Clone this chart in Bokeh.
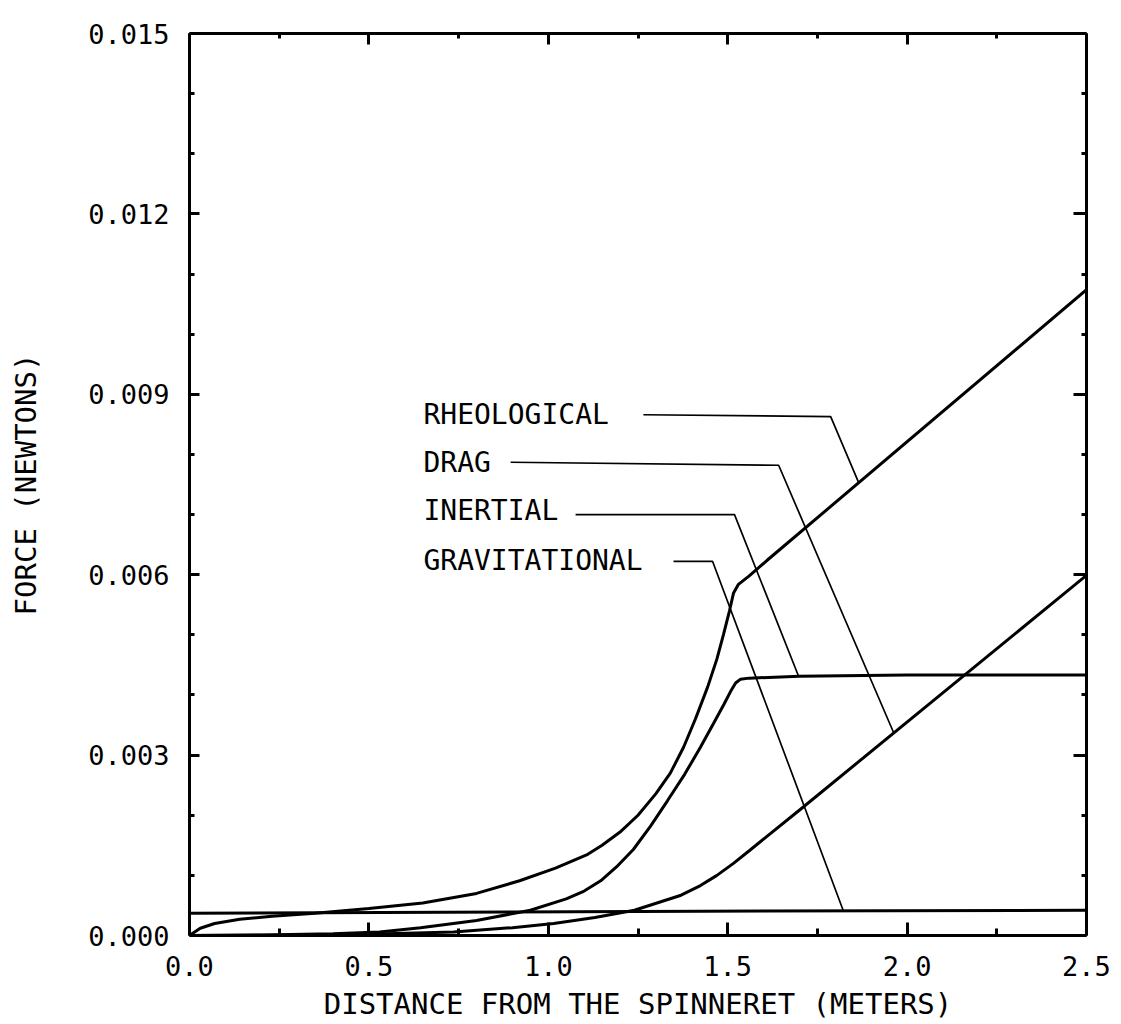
from bokeh.plotting import figure
from bokeh.models import Range1d, LinearAxis, FixedTicker, PrintfTickFormatter
from bokeh.core.properties import value
from bokeh.embed import file_html
from bokeh.resources import INLINE

# ---- data ----
rheo_x = [0.0, 0.03, 0.07, 0.14, 0.23, 0.35, 0.50, 0.65, 0.80, 0.92, 1.02, 1.11, 1.15, 1.20,
          1.25, 1.30, 1.34, 1.377, 1.41, 1.444, 1.47, 1.488, 1.505, 1.516, 1.53, 1.56, 1.61, 2.50]
rheo_y = [0.0, 0.00012, 0.00020, 0.00027, 0.00032, 0.00037, 0.00045, 0.00054, 0.00070, 0.00091,
          0.00112, 0.00135, 0.00150, 0.00172, 0.00200, 0.00236, 0.00270, 0.00313, 0.00360,
          0.00413, 0.00460, 0.00500, 0.00540, 0.00569, 0.00584, 0.00598, 0.00624, 0.01074]

inert_x = [0.0, 0.2, 0.4, 0.53, 0.644, 0.80, 0.95, 1.05, 1.10, 1.146, 1.19, 1.237, 1.285,
           1.332, 1.38, 1.424, 1.46, 1.49, 1.51, 1.522, 1.535, 1.56, 1.70, 2.0, 2.5]
inert_y = [0.0, 0.00001, 0.00003, 0.00006, 0.00013, 0.00025, 0.00042, 0.00061, 0.00074,
           0.00091, 0.00114, 0.00143, 0.00182, 0.00224, 0.00268, 0.00313, 0.00352, 0.00385,
           0.00408, 0.00420, 0.00426, 0.00428, 0.00431, 0.00433, 0.00433]

drag_x = [0.0, 0.3, 0.55, 0.736, 0.90, 1.015, 1.13, 1.24, 1.37, 1.424, 1.47, 1.516, 1.56,
          1.703, 2.5]
drag_y = [0.0, 0.00001, 0.00003, 0.00006, 0.00013, 0.00020, 0.00030, 0.00042, 0.00067,
          0.00083, 0.00100, 0.00120, 0.00141, 0.00210, 0.00599]

grav_x = [0.0, 1.25, 2.5]
grav_y = [0.00037, 0.00040, 0.00042]

labels = ["RHEOLOGICAL", "DRAG", "INERTIAL", "GRAVITATIONAL"]
label_x = [0.652, 0.652, 0.652, 0.652]
label_y = [0.00866, 0.00787, 0.00707, 0.00624]
leader_xs = [[1.265, 1.787, 1.865], [0.895, 1.642, 1.962],
             [1.076, 1.519, 1.697], [1.349, 1.458, 1.823]]
leader_ys = [[0.00866, 0.00863, 0.00753], [0.00787, 0.00782, 0.00338],
             [0.00700, 0.00700, 0.00432], [0.00622, 0.00622, 0.00040]]

x_major = [0.0, 0.5, 1.0, 1.5, 2.0, 2.5]
x_minor = [0.25, 0.75, 1.25, 1.75, 2.25]
y_major = [0.0, 0.003, 0.006, 0.009, 0.012, 0.015]
y_minor = [0.001, 0.002, 0.004, 0.005, 0.007, 0.008, 0.010, 0.011, 0.013, 0.014]

FONT = "DejaVu Sans Mono"

p = figure(width=1121, height=1024, x_range=Range1d(0, 2.5), y_range=Range1d(0, 0.015),
           output_backend="svg", toolbar_location=None,
           min_border_left=189, min_border_right=35, min_border_top=33, min_border_bottom=89)
p.xgrid.visible = False
p.ygrid.visible = False
p.outline_line_color = None
p.background_fill_color = "white"
p.border_fill_color = "white"


def style_axis(ax, tin, tmin, labels_on=True):
    ax.axis_line_width = 3
    ax.axis_line_color = "black"
    ax.major_tick_in = tin
    ax.major_tick_out = 0
    ax.minor_tick_in = tmin
    ax.minor_tick_out = 0
    ax.major_tick_line_width = 3
    ax.minor_tick_line_width = 3
    ax.major_tick_line_color = "black"
    ax.minor_tick_line_color = "black"
    if labels_on:
        ax.major_label_text_font = FONT
        ax.major_label_text_font_size = "27px"
        ax.major_label_text_color = "black"
    else:
        ax.major_label_text_color = None
        ax.major_label_text_font_size = "1px"
        ax.major_label_standoff = 0


xa = p.xaxis[0]
xa.ticker = FixedTicker(ticks=x_major, minor_ticks=x_minor)
xa.formatter = PrintfTickFormatter(format="%.1f")
style_axis(xa, 13, 7)
xa.major_label_standoff = 20
xa.axis_label = "DISTANCE FROM THE SPINNERET (METERS)"
xa.axis_label_text_font = FONT
xa.axis_label_text_font_size = "29px"
xa.axis_label_text_font_style = "normal"
xa.axis_label_text_color = "black"
xa.axis_label_standoff = 8

ya = p.yaxis[0]
ya.ticker = FixedTicker(ticks=y_major, minor_ticks=y_minor)
ya.formatter = PrintfTickFormatter(format="%.3f")
style_axis(ya, 10, 5)
ya.major_label_standoff = 20
ya.axis_label = "FORCE (NEWTONS)"
ya.axis_label_text_font = FONT
ya.axis_label_text_font_size = "29px"
ya.axis_label_text_font_style = "normal"
ya.axis_label_text_color = "black"
ya.axis_label_standoff = 42

top = LinearAxis(ticker=FixedTicker(ticks=x_major, minor_ticks=x_minor))
style_axis(top, 11, 5, labels_on=False)
p.add_layout(top, "above")

right = LinearAxis(ticker=FixedTicker(ticks=y_major, minor_ticks=y_minor))
style_axis(right, 13, 5, labels_on=False)
p.add_layout(right, "right")

# curves
p.line(grav_x, grav_y, line_width=3, color="black")
p.line(drag_x, drag_y, line_width=3, color="black")
p.line(inert_x, inert_y, line_width=3, color="black")
p.line(rheo_x, rheo_y, line_width=3, color="black")

# leaders and labels
p.multi_line(leader_xs, leader_ys, line_width=1.7, color="black")
p.text(x=label_x, y=label_y, text=labels, text_font=value(FONT), text_font_size="28px",
       text_baseline="middle", text_align="left", text_color="black")

open("out.html", "w").write(file_html(p, INLINE))
